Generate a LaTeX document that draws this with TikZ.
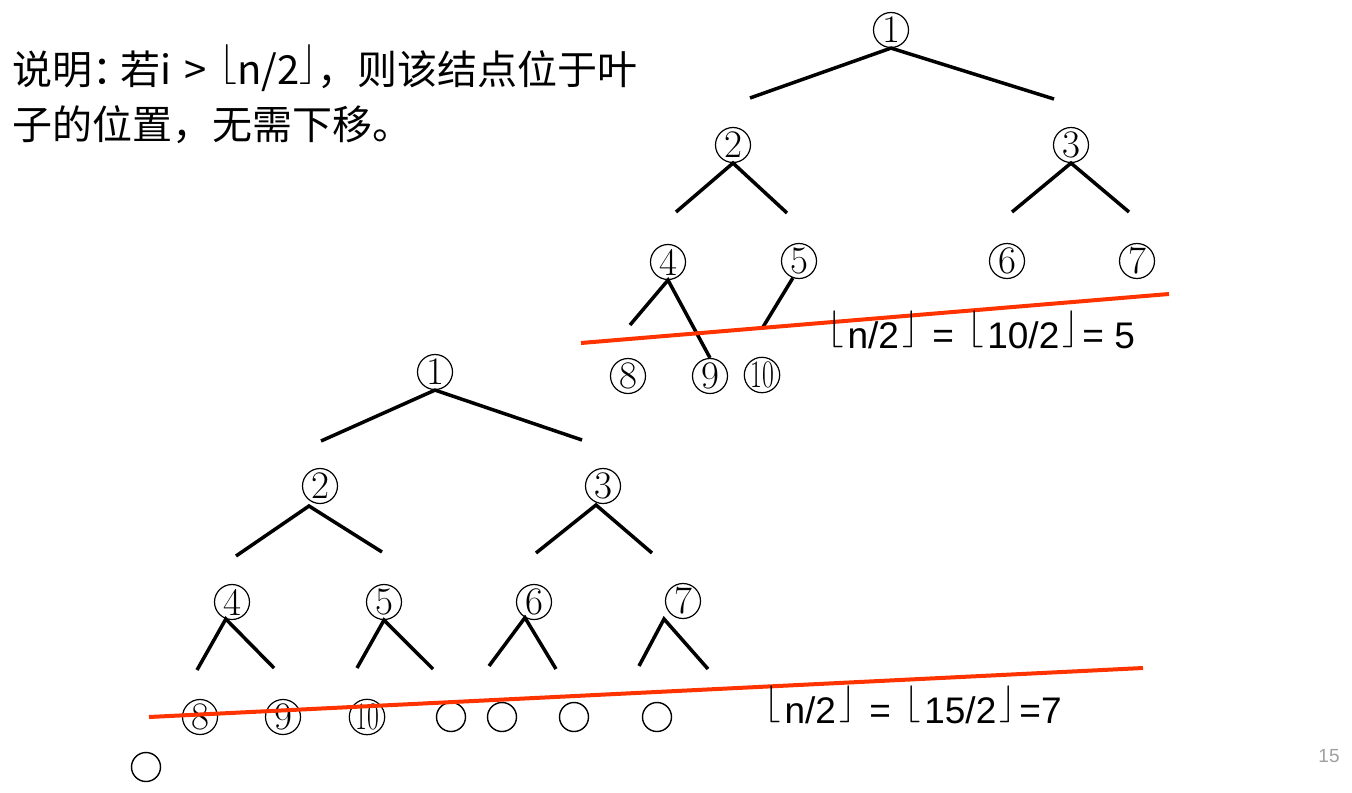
\documentclass[tikz,border=0pt]{standalone}
\usepackage{fontspec}
\usepackage{graphicx}
\newfontfamily\cjk{Noto Sans CJK SC}
\newfontfamily\lib{Liberation Sans}
\definecolor{redl}{RGB}{255,51,0}
\definecolor{pggray}{RGB}{160,160,160}
\newcommand{\lfl}{\raisebox{0.25em}{\resizebox*{!}{1em}{$\lfloor$}}}
\newcommand{\rfl}{\raisebox{0.25em}{\resizebox*{!}{1em}{$\rfloor$}}}
\newcommand{\lflk}{\kern0.09em\lfl\kern0.09em}
\newcommand{\rflk}{\kern0.09em\rfl\kern0.09em}
\newcommand{\tenc}{\scalebox{0.66}[1]{10}}
\begin{document}
\begin{tikzpicture}[x=0.5pt,y=-0.5pt,
  num/.style={circle,draw,line width=0.6pt,inner sep=0pt,minimum size=17.5pt,font=\fontsize{19.5}{19.5}\selectfont},
  emp/.style={circle,draw,line width=0.7pt,inner sep=0pt,minimum size=14.5pt},
  tline/.style={line width=1.75pt},
  redline/.style={draw=redl,line width=2pt},
  lab/.style={inner sep=0pt,anchor=base west,font=\lib\fontsize{18.5}{20}\selectfont},
  cjktext/.style={inner sep=0pt,anchor=base west,font=\cjk\fontsize{20}{20}\selectfont}]
\useasboundingbox (0,0) rectangle (1352,792);

% explanation text
\node[cjktext] (t1) at (12,84) {说明：\kern-0.3em 若i\hspace{0.1em} >\hspace{0.1em} \lfl n/2\rfl，则该结点位于叶};
\node[cjktext] (t2) at (12,139) {子的位置，无需下移。};

% ---------- top tree (n = 10) ----------
\node[num] (a1) at (891,30) {1};
\node[num] (a2) at (733,145) {2};
\node[num] (a3) at (1071,145) {3};
\node[num] (a4) at (668,262) {4};
\node[num] (a5) at (799,261) {5};
\node[num] (a6) at (1007,261) {6};
\node[num] (a7) at (1137,261) {7};
\node[num] (a8) at (628,376) {8};
\node[num] (a9) at (710,376) {9};
\node[num] (a10) at (762,375) {\tenc};

\coordinate (a1l) at (750,98);
\coordinate (a1r) at (1054,99);
\coordinate (a2l) at (676,212);
\coordinate (a2r) at (787,213);
\coordinate (a3l) at (1012,212);
\coordinate (a3r) at (1129,212);
\coordinate (a4l) at (630,325);
\coordinate (a5l) at (763,327);

\draw[tline] (a1l) -- (a1.south) -- (a1r);
\draw[tline] (a2l) -- (a2.south) -- (a2r);
\draw[tline] (a3l) -- (a3.south) -- (a3r);
\draw[tline] (a4l) -- (a4.south) -- (a9.north);
\draw[tline] (a5.250) -- (a5l);

\coordinate (r1a) at (581,343);
\coordinate (r1b) at (1169,294);
\draw[redline] (r1a) -- (r1b);

\node[lab] (l1) at (824,348) {\lflk n/2\rflk{} = \lflk 10/2\rflk= 5};

% ---------- bottom tree (n = 15) ----------
\node[num] (b1) at (435,372) {1};
\node[num] (b2) at (320,486) {2};
\node[num] (b3) at (603,486) {3};
\node[num] (b4) at (232,602) {4};
\node[num] (b5) at (384,602) {5};
\node[num] (b6) at (534,602) {6};
\node[num] (b7) at (683,601) {7};
\node[num] (b8) at (200,717) {8};
\node[num] (b9) at (283,717) {9};
\node[num] (b10) at (367,717) {\tenc};
\node[emp] (b11) at (451,717) {};
\node[emp] (b12) at (502,717) {};
\node[emp] (b13) at (574,717) {};
\node[emp] (b14) at (657,717) {};
\node[emp] (b16) at (146,767) {};

\coordinate (b1l) at (321,441);
\coordinate (b1r) at (582,440);
\coordinate (b2a) at (309,506);
\coordinate (b2l) at (236,556);
\coordinate (b2r) at (382,552);
\coordinate (b3a) at (596,505);
\coordinate (b3l) at (536,553);
\coordinate (b3r) at (652,553);
\coordinate (b4l) at (197,670);
\coordinate (b4r) at (274,668);
\coordinate (b5l) at (357,668);
\coordinate (b5r) at (433,669);
\coordinate (b6l) at (489,666);
\coordinate (b6r) at (556,669);
\coordinate (b7a) at (664,619);
\coordinate (b7l) at (639,666);
\coordinate (b7r) at (708,669);

\draw[tline] (b1l) -- (b1.south) -- (b1r);
\draw[tline] (b2l) -- (b2a) -- (b2r);
\draw[tline] (b3l) -- (b3a) -- (b3r);
\draw[tline] (b4l) -- (b4.250) -- (b4r);
\draw[tline] (b5l) -- (b5.south) -- (b5r);
\draw[tline] (b6l) -- (b6.240) -- (b6r);
\draw[tline] (b7l) -- (b7a) -- (b7r);

\coordinate (r2a) at (149,717);
\coordinate (r2b) at (1143,668);
\draw[redline] (r2a) -- (r2b);

\node[lab] (l2) at (761,723) {\lflk n/2\rflk{} = \lflk 15/2\rflk=7};

% page number
\node[inner sep=0pt,text=pggray,font=\lib\fontsize{9.5}{10}\selectfont] (pg) at (1329,756) {15};
\end{tikzpicture}
\end{document}
